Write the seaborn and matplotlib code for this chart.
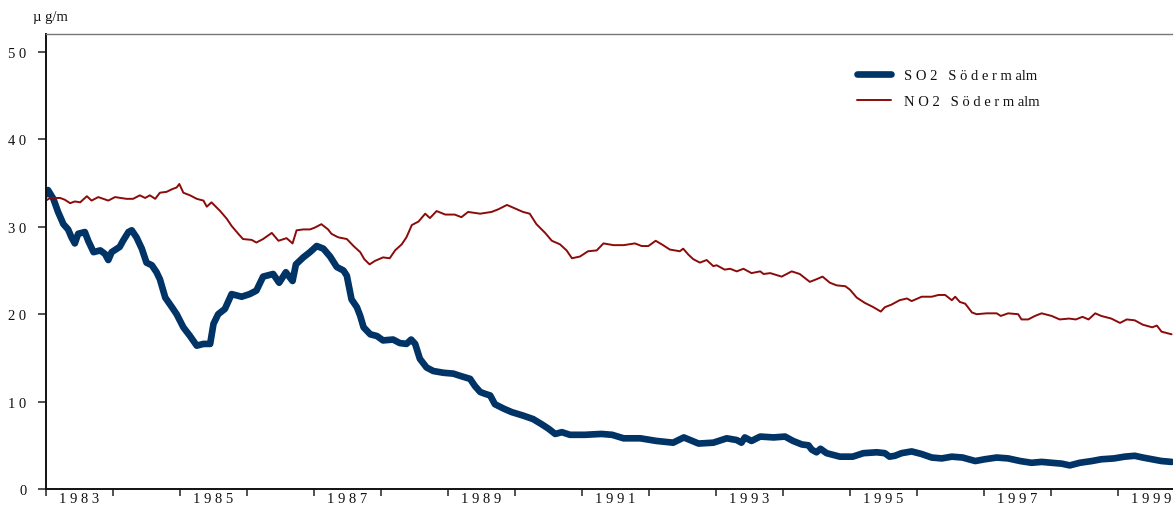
import numpy as np
import pandas as pd
import seaborn as sns
import matplotlib
matplotlib.use("Agg")
import matplotlib.pyplot as plt
from matplotlib.ticker import FixedLocator, NullFormatter

# Running annual means at Södermalm, µg/m³
so2_years = [1983.00, 1983.03, 1983.11, 1983.18, 1983.26, 1983.33, 1983.38, 1983.43, 1983.48, 1983.58,
             1983.63, 1983.71, 1983.81, 1983.88, 1983.93, 1983.98, 1984.10, 1984.15, 1984.23, 1984.28,
             1984.35, 1984.43, 1984.50, 1984.58, 1984.65, 1984.70, 1984.78, 1984.88, 1984.95, 1985.05,
             1985.15, 1985.25, 1985.35, 1985.45, 1985.50, 1985.57, 1985.67, 1985.77, 1985.92, 1986.04,
             1986.14, 1986.24, 1986.39, 1986.48, 1986.58, 1986.68, 1986.73, 1986.84, 1986.94, 1987.04,
             1987.14, 1987.24, 1987.34, 1987.44, 1987.49, 1987.56, 1987.64, 1987.69, 1987.74, 1987.84,
             1987.94, 1988.03, 1988.18, 1988.28, 1988.38, 1988.45, 1988.51, 1988.58, 1988.68, 1988.78,
             1988.93, 1989.08, 1989.20, 1989.33, 1989.40, 1989.48, 1989.55, 1989.63, 1989.70, 1989.83,
             1989.95, 1990.12, 1990.27, 1990.40, 1990.50, 1990.60, 1990.70, 1990.82, 1991.04, 1991.29,
             1991.45, 1991.62, 1991.87, 1992.11, 1992.36, 1992.52, 1992.74, 1992.96, 1993.16, 1993.31,
             1993.38, 1993.43, 1993.53, 1993.66, 1993.86, 1994.03, 1994.15, 1994.28, 1994.38, 1994.43,
             1994.50, 1994.56, 1994.65, 1994.85, 1995.04, 1995.20, 1995.40, 1995.52, 1995.59, 1995.67,
             1995.77, 1995.92, 1996.07, 1996.22, 1996.37, 1996.52, 1996.68, 1996.87, 1997.01, 1997.19,
             1997.36, 1997.54, 1997.71, 1997.86, 1998.01, 1998.16, 1998.28, 1998.43, 1998.61, 1998.75,
             1998.94, 1999.10, 1999.25, 1999.37, 1999.51, 1999.65, 1999.80]
so2_values = [33.7, 34.2, 33.2, 31.7, 30.3, 29.7, 28.8, 28.1, 29.2, 29.4,
              28.4, 27.1, 27.3, 26.9, 26.2, 27.1, 27.7, 28.4, 29.4, 29.6,
              28.8, 27.5, 25.9, 25.6, 24.8, 24.0, 21.9, 20.8, 20.0, 18.5,
              17.5, 16.4, 16.6, 16.6, 18.9, 20.0, 20.6, 22.3, 22.0, 22.3,
              22.7, 24.3, 24.6, 23.6, 24.8, 23.8, 25.7, 26.5, 27.1, 27.8,
              27.5, 26.6, 25.4, 25.0, 24.4, 21.7, 20.8, 19.8, 18.5, 17.7,
              17.5, 17.0, 17.1, 16.7, 16.6, 17.1, 16.6, 14.9, 13.9, 13.5,
              13.3, 13.2, 12.9, 12.6, 11.8, 11.1, 10.9, 10.7, 9.7, 9.2,
              8.8, 8.4, 8.0, 7.4, 6.9, 6.3, 6.5, 6.2, 6.2, 6.3,
              6.2, 5.8, 5.8, 5.5, 5.3, 5.9, 5.2, 5.3, 5.8, 5.6,
              5.3, 5.9, 5.5, 6.0, 5.9, 6.0, 5.5, 5.1, 5.0, 4.5,
              4.2, 4.6, 4.1, 3.7, 3.7, 4.1, 4.2, 4.1, 3.7, 3.8,
              4.1, 4.3, 4.0, 3.6, 3.5, 3.7, 3.6, 3.2, 3.4, 3.6,
              3.5, 3.2, 3.0, 3.1, 3.0, 2.9, 2.7, 3.0, 3.2, 3.4,
              3.5, 3.7, 3.8, 3.6, 3.4, 3.2, 3.1]

no2_years = [1983.00, 1983.06, 1983.21, 1983.28, 1983.36, 1983.43, 1983.51, 1983.61, 1983.68, 1983.78,
             1983.93, 1984.03, 1984.20, 1984.30, 1984.40, 1984.48, 1984.55, 1984.63, 1984.70, 1984.80,
             1984.88, 1984.95, 1984.99, 1985.05, 1985.15, 1985.25, 1985.35, 1985.40, 1985.47, 1985.60,
             1985.70, 1985.77, 1985.87, 1985.94, 1986.07, 1986.14, 1986.24, 1986.37, 1986.47, 1986.59,
             1986.68, 1986.74, 1986.84, 1986.94, 1987.01, 1987.11, 1987.21, 1987.26, 1987.36, 1987.49,
             1987.59, 1987.69, 1987.75, 1987.83, 1987.91, 1988.03, 1988.13, 1988.21, 1988.31, 1988.38,
             1988.46, 1988.56, 1988.66, 1988.73, 1988.83, 1988.96, 1989.10, 1989.20, 1989.30, 1989.48,
             1989.65, 1989.75, 1989.88, 1990.00, 1990.12, 1990.22, 1990.32, 1990.45, 1990.55, 1990.67,
             1990.77, 1990.85, 1990.97, 1991.09, 1991.22, 1991.32, 1991.47, 1991.62, 1991.79, 1991.89,
             1991.99, 1992.10, 1992.21, 1992.31, 1992.46, 1992.51, 1992.59, 1992.66, 1992.76, 1992.86,
             1992.96, 1993.01, 1993.13, 1993.21, 1993.31, 1993.41, 1993.53, 1993.66, 1993.71, 1993.81,
             1993.98, 1994.13, 1994.25, 1994.40, 1994.50, 1994.59, 1994.70, 1994.80, 1994.93, 1995.00,
             1995.10, 1995.22, 1995.35, 1995.46, 1995.52, 1995.62, 1995.74, 1995.85, 1995.92, 1996.07,
             1996.22, 1996.32, 1996.42, 1996.52, 1996.57, 1996.64, 1996.72, 1996.82, 1996.89, 1997.04,
             1997.19, 1997.25, 1997.36, 1997.51, 1997.56, 1997.66, 1997.76, 1997.86, 1998.01, 1998.13,
             1998.27, 1998.37, 1998.47, 1998.56, 1998.66, 1998.75, 1998.90, 1999.03, 1999.13, 1999.25,
             1999.37, 1999.51, 1999.58, 1999.65, 1999.80]
no2_values = [33.0, 33.3, 33.3, 33.1, 32.7, 32.9, 32.8, 33.5, 33.0, 33.4,
              33.0, 33.4, 33.2, 33.2, 33.6, 33.3, 33.6, 33.2, 33.9, 34.0,
              34.3, 34.5, 34.9, 33.9, 33.6, 33.2, 33.0, 32.3, 32.8, 31.8,
              30.9, 30.1, 29.2, 28.6, 28.5, 28.2, 28.6, 29.3, 28.4, 28.7,
              28.1, 29.6, 29.7, 29.7, 29.9, 30.3, 29.7, 29.2, 28.8, 28.6,
              27.8, 27.1, 26.3, 25.7, 26.1, 26.5, 26.4, 27.3, 28.0, 28.8,
              30.2, 30.6, 31.5, 31.0, 31.8, 31.4, 31.4, 31.1, 31.7, 31.5,
              31.7, 32.0, 32.5, 32.1, 31.7, 31.5, 30.3, 29.3, 28.4, 28.0,
              27.3, 26.4, 26.6, 27.2, 27.3, 28.1, 27.9, 27.9, 28.1, 27.8,
              27.8, 28.4, 27.9, 27.4, 27.2, 27.5, 26.8, 26.3, 25.9, 26.2,
              25.5, 25.6, 25.1, 25.2, 24.9, 25.2, 24.7, 24.9, 24.6, 24.7,
              24.3, 24.9, 24.6, 23.7, 24.0, 24.3, 23.6, 23.3, 23.2, 22.8,
              21.9, 21.3, 20.8, 20.3, 20.8, 21.1, 21.6, 21.8, 21.5, 22.0,
              22.0, 22.2, 22.2, 21.6, 22.0, 21.4, 21.2, 20.2, 20.0, 20.1,
              20.1, 19.8, 20.1, 20.0, 19.4, 19.4, 19.8, 20.1, 19.8, 19.4,
              19.5, 19.4, 19.7, 19.4, 20.1, 19.8, 19.5, 19.0, 19.4, 19.3,
              18.8, 18.5, 18.7, 18.0, 17.7]

series_labels = ["S O 2   S ö d e r m alm", "N O 2   S ö d e r m alm"]
y_ticks = [0, 10, 20, 30, 40, 50]
year_labels = [1983, 1985, 1987, 1989, 1991, 1993, 1995, 1997, 1999]
unit_label = "µ g/m"

SO2_COLOR = "#003366"
NO2_COLOR = "#8B0A0A"

sns.set_theme(style="white")
plt.rcParams["font.family"] = ["Liberation Serif", "DejaVu Serif"]


def spaced(s):
    return " ".join(str(s))


so2 = pd.DataFrame({"year": so2_years, "value": so2_values})
no2 = pd.DataFrame({"year": no2_years, "value": no2_values})

W, H = 1173, 506
fig = plt.figure(figsize=(W / 100, H / 100), dpi=100)
ax = fig.add_axes([46 / W, (H - 490) / H, (W - 46) / W, (490 - 35) / H])

sns.lineplot(data=so2, x="year", y="value", ax=ax, color=SO2_COLOR,
             linewidth=4.8, label=series_labels[0], solid_capstyle="round")
sns.lineplot(data=no2, x="year", y="value", ax=ax, color=NO2_COLOR,
             linewidth=1.4, label=series_labels[1])

ax.set_xlim(1983.0, 1983.0 + (W - 46) / 67)
ax.set_ylim(0, (490 - 35) / 8.74)
ax.set_xlabel("")
ax.set_ylabel("")

# y axis
ax.set_yticks(y_ticks)
ax.set_yticklabels([spaced(v) for v in y_ticks], fontsize=10.5, color="#111111")
ax.tick_params(axis="y", which="major", direction="out", length=6, width=1.1,
               color="#222222", pad=8, left=True)

# x axis: tick marks at each year boundary, labels centred in odd years
ax.xaxis.set_major_locator(FixedLocator(np.arange(1983, 2001)))
ax.xaxis.set_major_formatter(NullFormatter())
ax.xaxis.set_minor_locator(FixedLocator([y + 0.5 for y in year_labels]))
ax.set_xticklabels([spaced(y) for y in year_labels], minor=True, fontsize=10.5, color="#111111")
ax.tick_params(axis="x", which="major", direction="out", length=5, width=1.1,
               color="#222222", bottom=True)
ax.tick_params(axis="x", which="minor", length=0, pad=2, bottom=True)

for side in ["left", "bottom"]:
    ax.spines[side].set_color("#111111")
    ax.spines[side].set_linewidth(1.4)
ax.spines["top"].set_color("#777777")
ax.spines["top"].set_linewidth(1.0)
ax.spines["right"].set_visible(False)
ax.grid(False)

leg = ax.legend(loc="upper left", bbox_to_anchor=(857 / W, 1 - 70 / H),
                bbox_transform=fig.transFigure, frameon=False, fontsize=10.5,
                handlelength=2.3, handletextpad=0.9, labelspacing=0.85,
                borderaxespad=0, borderpad=0)
for txt in leg.get_texts():
    txt.set_color("#111111")

fig.text(33 / W, 1 - 18 / H, unit_label, fontsize=10.5, ha="left", va="center", color="#111111")

fig.savefig("out.png", dpi=100, facecolor="white")
